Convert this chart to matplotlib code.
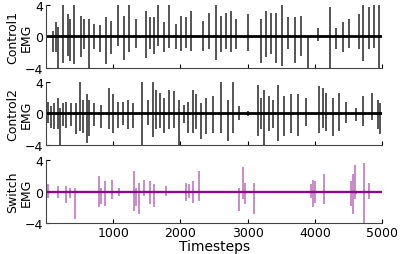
import numpy as np
import matplotlib.pyplot as plt

# Burst spikes: time, positive peak, negative peak
c1_t = [100, 150, 175, 250, 320, 360, 420, 520, 570, 645, 720, 800, 890, 970, 1070, 1165, 1240,
        1340, 1480, 1540, 1610, 1660, 1760, 1835, 1935, 2010, 2080, 2160, 2330, 2430, 2530, 2610,
        2680, 2750, 2830, 3010, 3200, 3270, 3350, 3420, 3510, 3600, 3700, 3800, 3900, 4050, 4220,
        4320, 4420, 4500, 4650, 4720, 4800, 4880, 4950]
c1_hi = [0.7, 1.8, 1.2, 3.9, 2.8, 2.2, 4.0, 2.6, 2.2, 2.2, 1.6, 1.4, 2.4, 2.0, 4.0, 2.6, 3.9,
         2.2, 3.2, 2.4, 2.4, 3.9, 1.8, 4.0, 1.6, 2.6, 2.4, 3.2, 2.0, 3.0, 4.0, 2.6, 3.0, 3.2,
         2.2, 2.8, 2.2, 3.2, 3.0, 3.0, 4.0, 2.4, 2.4, 2.6, 0.1, 1.1, 3.7, 1.1, 1.8, 2.2, 2.8,
         4.0, 3.7, 4.0, 4.0]
c1_lo = [-1.9, -2.0, -3.9, -3.3, -2.4, -3.1, -3.5, -2.6, -1.6, -4.0, -1.6, -2.0, -3.5, -2.2, -1.2, -2.9, -2.0,
         -1.4, -2.7, -1.6, -2.2, -1.2, -2.0, -1.5, -1.6, -1.8, -1.4, -1.8, -1.8, -1.6, -2.9, -2.0,
         -1.6, -2.0, -1.6, -1.8, -3.3, -2.6, -2.2, -3.3, -3.7, -1.6, -3.3, -2.4, -4.0, -0.6, -4.0,
         -1.6, -2.0, -1.4, -1.6, -3.1, -1.6, -1.4, -4.0]

c2_t = [25, 75, 125, 175, 215, 250, 300, 370, 445, 505, 545, 605, 645, 720, 820, 940, 990, 1065,
        1140, 1215, 1290, 1430, 1515, 1590, 1640, 1690, 1760, 1835, 1910, 1985, 2060, 2110, 2180,
        2230, 2305, 2380, 2480, 2600, 2700, 2775, 2875, 3000, 3150, 3200, 3240, 3320, 3370, 3450,
        3545, 3645, 3745, 3860, 4065, 4115, 4165, 4265, 4365, 4465, 4615, 4710, 4850, 4935, 4970]
c2_hi = [1.5, 0.9, 1.3, 2.0, 0.7, 1.3, 1.5, 1.3, 1.3, 4.0, 1.7, 2.4, 1.7, 1.3, 1.1, 3.2, 2.4, 1.5,
         1.5, 1.7, 1.3, 4.0, 1.7, 4.0, 3.0, 2.6, 2.0, 3.0, 2.8, 1.7, 1.1, 1.5, 3.0, 2.4, 1.3, 2.0,
         2.2, 4.0, 1.7, 4.0, 0.9, 0.3, 3.6, 2.0, 3.0, 2.2, 1.7, 3.6, 2.2, 2.4, 2.4, 2.0, 3.4, 3.2,
         2.6, 2.0, 2.6, 1.5, 0.7, 2.2, 2.6, 1.7, 1.3]
c2_lo = [-1.2, -1.8, -2.0, -2.0, -4.0, -1.6, -1.8, -1.6, -2.6, -2.2, -2.4, -3.7, -2.8, -1.6, -1.8, -2.0, -2.4, -1.8,
         -1.4, -2.0, -1.8, -4.0, -1.4, -3.0, -2.0, -1.8, -2.4, -2.0, -1.8, -4.0, -1.2, -2.4, -2.4,
         -2.0, -3.2, -2.6, -2.4, -2.4, -3.4, -2.4, -0.8, -0.3, -2.8, -2.0, -4.0, -2.2, -1.8, -3.4,
         -2.8, -2.4, -2.8, -1.6, -2.4, -1.8, -2.2, -2.8, -2.2, -1.2, -1.0, -1.6, -0.8, -2.0, -2.6]

sw_t = [25, 175, 300, 350, 435, 795, 820, 880, 980, 1090, 1315, 1340, 1380, 1465, 1540, 1610, 1785,
        2085, 2120, 2180, 2280, 2875, 2925, 2960, 3090, 3940, 3965, 4000, 4140, 4540, 4565, 4590,
        4615, 4725, 4810]
sw_hi = [0.9, 0.7, 0.7, 0.5, 0.5, 2.0, 0.5, 1.3, 1.5, 0.5, 2.6, 0.5, 1.1, 1.5, 1.3, 0.9, 0.7,
         1.1, 0.9, 1.3, 2.6, 0.5, 3.1, 1.1, 1.1, 0.9, 1.5, 1.3, 2.2, 1.3, 2.2, 3.3, 0.1, 3.6, 1.1]
sw_lo = [-0.8, -0.8, -1.4, -0.8, -3.5, -2.0, -1.6, -1.8, -1.0, -0.5, -2.4, -1.8, -2.85, -0.6, -1.6, -2.0, -0.6,
         -1.2, -0.8, -1.4, -1.2, -2.4, -1.0, -1.6, -2.85, -0.8, -2.0, -1.4, -1.6, -1.8, -2.85, -1.0,
         -0.3, -4.0, -1.0]

# baseline (quiet) signal level across the whole run
span = [0, 5000]
base = [0, 0]

purple = '#8b0a8b'
panels = [(c1_t, c1_hi, c1_lo, 'Control1\nEMG', 'black'),
          (c2_t, c2_hi, c2_lo, 'Control2\nEMG', 'black'),
          (sw_t, sw_hi, sw_lo, 'Switch\nEMG', purple)]

fig = plt.figure(figsize=(4.07, 2.55), dpi=100)
tops = [0.978, 0.676, 0.370]
h = 0.250
for i, (t, hi, lo, lab, col) in enumerate(panels):
    ax = fig.add_axes([0.113, tops[i] - h, 0.826, h])
    ax.plot(span, base, color=col, lw=2.0 if i < 2 else 1.7, solid_capstyle='butt')
    ax.vlines(t, lo, hi, color=col, lw=1.1, alpha=0.85 if i < 2 else 0.6)
    ax.set_xlim(0, 5000)
    ax.set_ylim(-4, 4)
    ax.set_yticks([-4, 0, 4])
    ax.set_xticks([1000, 2000, 3000, 4000, 5000])
    for s in ['top', 'right']:
        ax.spines[s].set_visible(False)
    for s in ['left', 'bottom']:
        ax.spines[s].set_color('#444444')
    ax.tick_params(direction='in', labelsize=9, length=3, pad=2)
    ax.set_ylabel(lab, fontsize=9, linespacing=1.0)
    ax.yaxis.set_label_coords(-0.04, 0.5)
    if i < 2:
        ax.set_xticklabels([])
    else:
        ax.set_xlabel('Timesteps', fontsize=10, labelpad=0)

fig.savefig('out.png', dpi=100)
